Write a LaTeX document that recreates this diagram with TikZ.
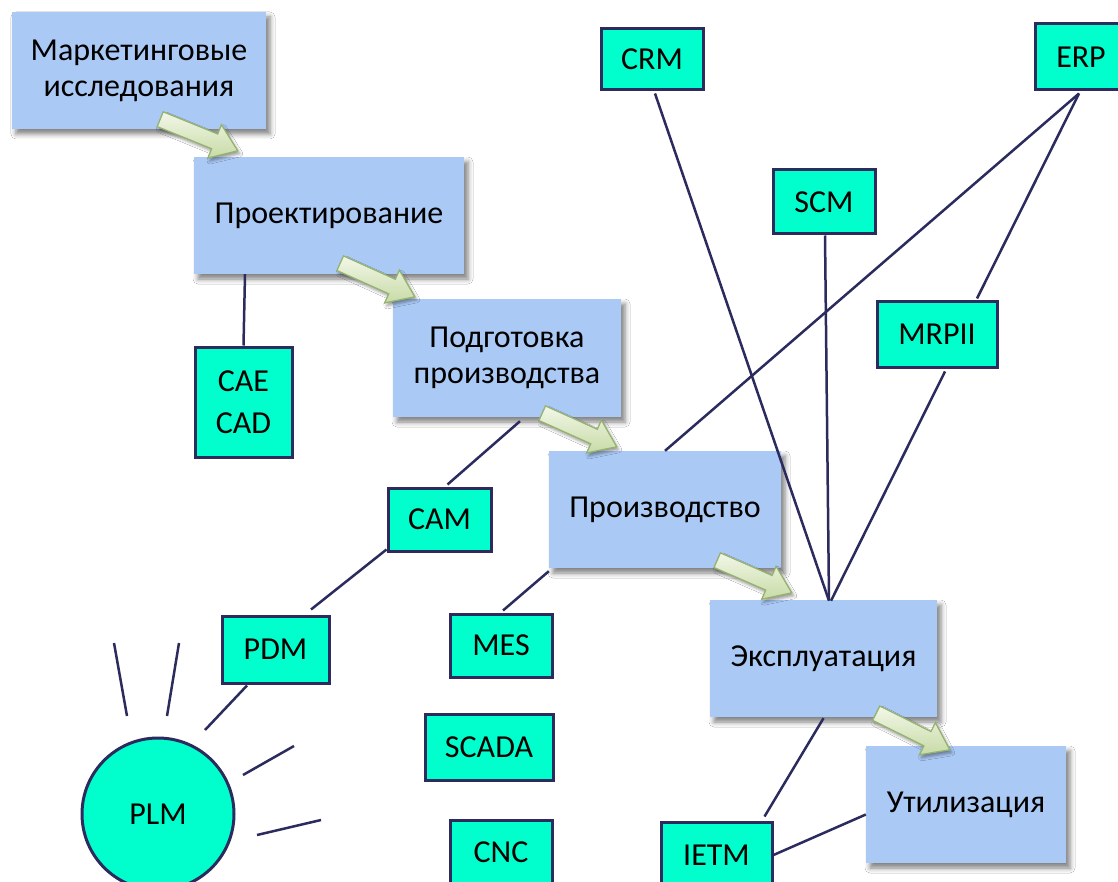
\documentclass[tikz,border=0pt]{standalone}
\usepackage{fontspec}
\setmainfont{Carlito}
\usetikzlibrary{calc,shadows,shadows.blur}
\definecolor{boxblue}{RGB}{170,201,245}
\definecolor{boxgreen}{RGB}{0,255,204}
\definecolor{navy}{RGB}{43,43,94}
\definecolor{arrlight}{RGB}{242,247,232}
\definecolor{arrdark}{RGB}{200,219,166}
\definecolor{arredge}{RGB}{150,178,112}
\tikzset{
  stage/.style={fill=boxblue, inner sep=0pt, align=center,
    font=\fontsize{32}{36}\selectfont,
    blur shadow={shadow xshift=4pt, shadow yshift=-5pt, shadow blur radius=5pt, shadow opacity=50}},
  tool/.style={draw=navy, line width=3pt, fill=boxgreen, inner sep=0pt, align=center,
    font=\fontsize{32}{36}\selectfont},
  link/.style={draw=navy, line width=2.5pt},
  barrowstyle/.style={draw=arredge, line width=1.3pt, top color=arrlight, bottom color=arrdark,
    blur shadow={shadow xshift=2pt, shadow yshift=-3pt, shadow blur radius=3pt, shadow opacity=40}}
}
\newcommand\blockarrow[2]{%
  \coordinate (ba-c) at ($(#2)!25pt!(#1)$);
  \path[barrowstyle] ($(#1)!8pt!90:(#2)$) -- ($(ba-c)!8pt!-90:(#1)$) -- ($(ba-c)!18pt!-90:(#1)$)
    -- (#2) -- ($(ba-c)!18pt!90:(#1)$) -- ($(ba-c)!8pt!90:(#1)$) -- ($(#1)!8pt!-90:(#2)$) -- cycle;}
\begin{document}
\begin{tikzpicture}[x=1pt,y=-1pt]
\useasboundingbox[fill=white] (0,0) rectangle (1118,882);
% stages
\node[stage, minimum width=254pt, minimum height=117pt] (mr) at (139,70.5) {Маркетинговые\\исследования};
\node[stage, minimum width=270pt, minimum height=117pt] (pr) at (329,215.5) {\raisebox{-3pt}{Проектирование}};
\node[stage, minimum width=228pt, minimum height=118pt] (pp) at (507,358) {Подготовка\\производства};
\node[stage, minimum width=232pt, minimum height=117pt] (pz) at (665,509.5) {\raisebox{-3pt}{Производство}};
\node[stage, minimum width=227pt, minimum height=117pt] (ex) at (823.5,658.5) {\raisebox{-3pt}{Эксплуатация}};
\node[stage, minimum width=200pt, minimum height=117pt] (ut) at (966,804.5) {\raisebox{-3pt}{Утилизация}};
% tools
\node[tool, minimum width=102pt, minimum height=61pt] (crm) at (652,59.5) {CRM};
\node[tool, minimum width=92pt, minimum height=66pt] (erp) at (1081,57) {ERP};
\node[tool, minimum width=102pt, minimum height=64pt] (scm) at (824,202) {SCM};
\node[tool, minimum width=120pt, minimum height=65pt] (mrp) at (937,334.5) {MRPII};
\node[tool, minimum width=97pt, minimum height=110pt] (cae) at (243.5,402) {CAE\\[6pt]CAD};
\node[tool, minimum width=103pt, minimum height=63pt] (cam) at (439.5,519.5) {CAM};
\node[tool, minimum width=107pt, minimum height=67pt] (pdm) at (275.5,649.5) {PDM};
\node[tool, minimum width=102pt, minimum height=63pt] (mes) at (501,645.5) {MES};
\node[tool, minimum width=128pt, minimum height=66pt] (scada) at (489,747) {SCADA};
\node[tool, minimum width=102pt, minimum height=65pt] (cnc) at (501,852.5) {CNC};
\node[tool, minimum width=111pt, minimum height=66pt] (ietm) at (716.5,855) {IETM};
\node[tool, circle, minimum size=152pt] (plm) at (158,814) {PLM};
% connectors
\draw[link] ($(pr.south)+(-84,0)$) -- (cae.north);
\draw[link] ($(pp.south)+(13,4)$) -- ($(cam.north)+(8,-2)$);
\draw[link] ($(cam.south west)+(0,-3)$) -- ($(pdm.north)+(35.5,-5)$);
\draw[link] ($(pdm.south)+(-28.5,1)$) -- ($(plm.center)+(47,-84)$);
\draw[link] ($(plm.center)+(-44,-171)$) -- ($(plm.center)+(-31,-98)$);
\draw[link] ($(plm.center)+(21,-171)$) -- ($(plm.center)+(9,-98)$);
\draw[link] ($(plm.center)+(136,-68)$) -- ($(plm.center)+(85,-39)$);
\draw[link] ($(plm.center)+(163,6)$) -- ($(plm.center)+(99,21)$);
\draw[link] ($(mes.north)+(2,-2)$) -- ($(pz.south west)+(0,3)$);
\draw[link] ($(crm.south)+(3,2)$) -- ($(ex.north)+(5.5,1)$);
\draw[link] ($(scm.south)+(1,0)$) -- ($(ex.north)+(5.5,0)$);
\draw[link] ($(mrp.south)+(8,3)$) -- ($(ex.north)+(7.5,1)$);
\draw[link] ($(erp.south)+(-2,2)$) -- (pz.north);
\draw[link] ($(erp.south)+(-2,2)$) -- ($(mrp.north)+(40,-2)$);
\draw[link] ($(ex.south)+(0,1)$) -- ($(ietm.north)+(48,-4)$);
\draw[link] (ietm.east) -- ($(ut.west)+(0,10)$);
% block arrows
\coordinate (a1s) at ($(mr.south east)+(-106,-10)$);
\coordinate (a1e) at ($(pr.north west)+(44,-6)$);
\coordinate (a2s) at ($(pr.south east)+(-124,-11)$);
\coordinate (a2e) at ($(pp.north west)+(22,-2)$);
\coordinate (a3s) at ($(pp.south east)+(-79,-4)$);
\coordinate (a3e) at ($(pz.north west)+(68,-4)$);
\coordinate (a4s) at ($(pz.south east)+(-64,-8)$);
\coordinate (a4e) at ($(ex.north west)+(82,-7)$);
\coordinate (a5s) at ($(ex.south east)+(-61,-4)$);
\coordinate (a5e) at ($(ut.north west)+(84,4)$);
\blockarrow{a1s}{a1e}
\blockarrow{a2s}{a2e}
\blockarrow{a3s}{a3e}
\blockarrow{a4s}{a4e}
\blockarrow{a5s}{a5e}
\end{tikzpicture}
\end{document}
